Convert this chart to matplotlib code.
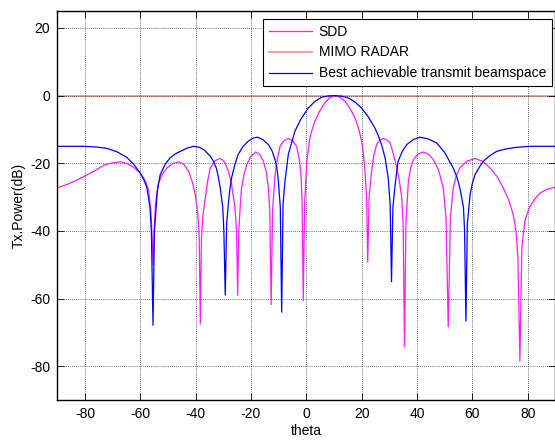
import matplotlib
matplotlib.use('Agg')
import matplotlib.pyplot as plt

plt.rcParams['font.family'] = ['Liberation Sans', 'DejaVu Sans']
plt.rcParams['font.size'] = 10
plt.rcParams['axes.unicode_minus'] = False

# SDD beam pattern
theta_sdd = [-90, -86.5, -83, -79.3, -76, -73.2, -70, -67.2, -64.8, -62.4, -60.5, -58.8, -57.8, -57,
             -56.2, -55.7, -55.4, -55, -54.5, -53.5, -52, -50.4, -48.3, -46.1, -44.2, -42.5, -41.2,
             -40.1, -39.2, -38.7, -38.3, -37.9, -37.3, -36.5, -35.6, -34.7, -33, -31.4, -30.3,
             -29.4, -28.1, -27, -25.8, -25.2, -24.8, -24.4, -23.9, -23.4, -22.5, -21.5, -20, -18.3,
             -16.9, -15.5, -14.5, -13.7, -13.2, -12.7, -12.2, -11.3, -10.4, -9.5, -8, -6.5, -5,
             -3.5, -2.6, -1.9, -1.5, -1.1, -0.6, 0.1, 0.7, 1.3, 2.2, 3.1, 4.9, 6.7, 8.5, 10.4,
             12.2, 14, 15.8, 17.6, 18.9, 20, 20.7, 21.2, 21.8, 22.2, 22.7, 23.6, 24.4, 25.4, 26.6,
             27.8, 29.1, 30.3, 30.8, 31.7, 32.7, 33.6, 34.5, 35.0, 35.5, 36.0, 36.9, 37.7, 38.7,
             40.5, 42.3, 44.1, 45.9, 47.8, 49.5, 50.5, 51.3, 52.1, 53.1, 54.2, 55.5, 58, 61, 63.7,
             66.4, 69, 71.2, 73.2, 74.8, 75.8, 76.5, 77.2, 77.9, 79, 80, 80.9, 82.7, 84.5, 87, 90]
pow_sdd = [-27.3, -26.3, -25, -23.5, -22, -20.6, -19.9, -19.6, -20.1, -21.2, -22.6, -24.3, -26, -28,
           -34, -42, -50, -40, -32, -26, -23.2, -21.4, -20.1, -19.6, -20.4, -22.4, -25.5,
           -29.3, -35, -42, -67.4, -42, -35, -30.2, -25, -21.4, -19.3, -18.6, -19,
           -19.9, -22.5, -26.3, -33, -40, -59, -40, -33, -27.3, -23.3, -20.4, -17.9, -16.7,
           -17.3, -19.4, -22.5, -27.3, -34, -61.8, -34, -23.4, -18.5, -15, -13.3, -12.7, -13.3,
           -15, -18.5, -23.4, -32, -60.6, -32, -20.4, -16, -12.5, -9.8, -7.6, -4.5, -2.2, -0.6, 0,
           -0.5, -1.7, -3.8, -6.6, -9.7, -13.5, -17.5, -22.4, -30, -49.2, -30, -22.4, -17.8, -14.5, -13.1,
           -12.7, -13.1, -14, -15.3, -18, -21.4, -25, -30.2, -38, -74.3, -38, -25.3, -21.5, -18.9,
           -17.2, -16.7, -17.3, -18.9, -22, -27.3, -36, -68.4, -36, -27.3, -23.8, -21.4, -19.4, -18.6, -19.4,
           -21.4, -24, -27.3, -31, -35.2, -40, -48, -78.5, -45, -37.1, -34.5, -32.7, -30.5, -28.8, -27.7, -27.1]

# MIMO radar (flat 0 dB)
theta_mimo = [-90, 90]
pow_mimo = [0, 0]

# best achievable transmit beamspace
theta_best = [-90, -80, -76, -72, -68.5, -65, -62.5, -60, -58.5, -57.6, -56.5, -56, -55.4, -54.9,
              -53.8, -52.8, -51, -49.2, -47.3, -45.5, -43, -40.7, -38.7, -37, -34.7, -33.5, -32.5,
              -31.8, -31.1, -30.2, -29.8, -29.3, -28.8, -28.2, -27.6, -27, -25.8, -24.6, -23, -21,
              -19.3, -17.7, -15.7, -13.7, -12.4, -11.3, -10.6, -10.1, -9.4, -8.9, -8.4, -7.7, -6.5,
              -4.1, -2, 0.7, 3, 5.5, 8, 10.4, 12.8, 15.2, 17.6, 20, 22.4, 24.8, 26, 27.2, 28.5,
              29.6, 30.3, 30.8, 31.3, 32, 32.6, 33.2, 34.7, 36.3, 38.7, 41.1, 44, 47.1, 50, 53.1,
              54.4, 55.5, 56.8, 57.2, 57.7, 58.2, 59.2, 60, 61, 62.5, 64, 66.3, 68.8, 72, 76, 81, 90]
pow_best = [-15, -15, -15.2, -15.6, -16.6, -18.2, -20.2, -22.9, -25.3, -27.3, -33, -40, -67.9, -40,
            -28, -23.4, -20.3, -18.4, -17.2, -16.5, -15.5, -15, -15.3, -16, -17.9, -19.5, -21.5,
            -24, -27.3, -33, -40, -59, -38, -32.2, -27.5, -24.3, -20.3, -17.4, -15.2, -13.5,
            -12.6, -12.3, -13, -14.5, -16.3, -18.9, -21.5, -25.3, -33, -64, -32, -25.3, -17.4,
            -10.5, -7, -3.7, -1.8, -0.5, -0.1, 0, -0.2, -0.7, -1.9, -3.7, -6.3, -9.6, -11.8, -14.5, -18.5,
            -24.3, -32, -55, -33, -27.3, -23, -19.4, -16.5, -14.5, -13, -12.3, -12.8, -14, -16.8, -21.4,
            -24, -27.3, -33, -40, -66.7, -38, -29.3, -26, -23.4, -21.2, -19.4, -17.8, -16.5, -15.8, -15.3, -15, -15]

fig = plt.figure(figsize=(5.55, 4.4), dpi=100)
ax = fig.add_axes([57.3 / 555, 1 - 400 / 440, 498 / 555, 389 / 440])
ax.set_axisbelow('line')

ax.plot(theta_sdd, pow_sdd, color='#ff1aff', lw=0.9, label='SDD')
ax.plot(theta_mimo, pow_mimo, color='#ff9090', lw=1.3, label='MIMO RADAR', zorder=1)
ax.plot(theta_best, pow_best, color='#0000ff', lw=0.9, label='Best achievable transmit beamspace')

ax.set_xlim(-90, 90)
ax.set_ylim(-90, 25)
ax.set_xticks(range(-80, 81, 20))
ax.set_yticks(range(-80, 21, 20))
ax.tick_params(direction='in', top=True, right=True, length=5, width=0.6, pad=5)
ax.grid(True, color='0.25', ls=(0, (1, 1.5)), lw=0.6)
for s in ax.spines.values():
    s.set_linewidth(1.0)

ax.set_xlabel('theta', labelpad=2)
ax.set_ylabel('Tx.Power(dB)', labelpad=3)

leg = ax.legend(loc='upper right', bbox_to_anchor=(551.7 / 555, 1 - 19 / 440),
                bbox_transform=fig.transFigure, borderaxespad=0, fancybox=False,
                framealpha=1, edgecolor='black', handlelength=3.1, labelspacing=0.5,
                handletextpad=0.5, borderpad=0.4)
leg.get_frame().set_linewidth(0.8)

fig.savefig('out.png', dpi=100)
